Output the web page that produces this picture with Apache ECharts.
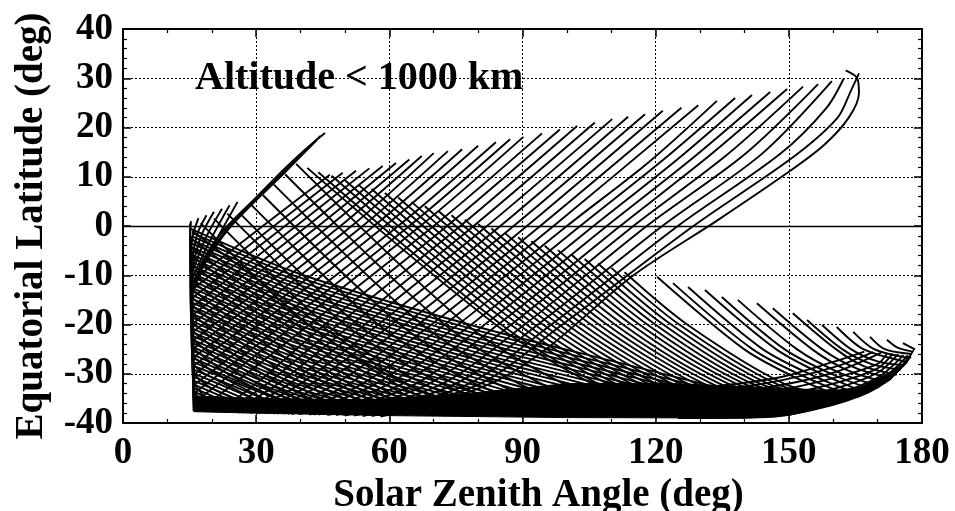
<!DOCTYPE html>
<html>
<head>
<meta charset="utf-8">
<style>html,body{margin:0;padding:0;background:#fff;}#c{width:955px;height:511px;}</style>
<script src="https://cdn.jsdelivr.net/npm/echarts@6/dist/echarts.min.js"></script>
</head>
<body>
<div id="c"></div>
<script>
// ---- axis ticks ----
const xTicks = [0, 30, 60, 90, 120, 150, 180];
const yTicks = [-40, -30, -20, -10, 0, 10, 20, 30, 40];
const xTitle = 'Solar Zenith Angle (deg)';
const yTitle = 'Equatorial Latitude (deg)';
const annotation = 'Altitude < 1000 km';

// ---- ascending tracks ending on the upper envelope (SZA, latitude) ----
const ascUpperBand = [
  [[15.6,-11.1],[31.5,0],[46.6,10.4]],
  [[15.6,-12.9],[34,0],[49.5,10.8]],
  [[15.6,-14.6],[36.5,0],[52.5,11.2]],
  [[15.6,-16.4],[39,0],[55.5,11.7]],
  [[15.6,-18.1],[41.5,0],[58.5,12.2]],
  [[15.6,-19.9],[44,0],[61.5,12.8]],
  [[15.6,-21.6],[46.5,0],[64.5,13.5]],
  [[15.6,-23.4],[49,0],[67.3,14.2]],
  [[15.6,-25.1],[51.5,0],[70,14.8]],
  [[15.6,-26.9],[54,0],[73.2,15.2]],
  [[15.6,-28.6],[56.5,0],[76.4,15.6]],
  [[15.7,-30.4],[59,0],[80,16.3]],
  [[15.7,-32.5],[62,0],[84,17]],
  [[15.7,-34.2],[64.5,0],[87.2,17.6]],
  [[15.8,-36],[67,0],[90.2,18.1]],
  [[17,-37.6],[70,0],[94.4,18.8]],
  [[21.5,-37.7],[30,-32],[45.5,-20],[73,0],[98.4,19.6]],
  [[23,-37.8],[32.5,-32],[48.5,-20],[76,0],[102.3,20.3]],
  [[24.5,-37.8],[35,-32],[51.5,-20],[79,0],[106.3,21]],
  [[26,-37.9],[37.5,-32],[54.5,-20],[82,0],[110.2,21.7]],
  [[28,-37.9],[40,-32],[57.5,-20],[85,0],[113.8,22.2]],
  [[30,-38],[42.5,-32],[60.5,-20],[88,0],[117.6,22.7]],
  [[32,-38],[45,-32],[63.5,-20],[91,0],[121.6,23.4]],
  [[34,-38.1],[48,-32],[66.5,-20],[94,0],[125.8,24]],
  [[36,-38.1],[51,-32],[69.5,-20],[97,0],[129.6,24.5]],
  [[38,-38.2],[54,-32],[72.5,-20],[100,0],[118.5,13],[133.8,25.4]],
  [[40,-38.2],[57,-32],[75.5,-20],[103,0],[121.5,13.3],[137.9,26]],
  [[42,-38.3],[60,-32],[78.5,-20],[106,0],[125,13.6],[141.7,26.6]],
  [[44,-38.3],[63,-32],[81.5,-20],[109,0],[128.5,13.9],[145.8,27.2]],
  [[46,-38.4],[66,-32],[84.5,-20],[112,0],[132,14.2],[149.6,27.8]],
  [[48,-38.4],[69,-32],[87.5,-20],[115,0],[136,14.4],[153.2,28.3]],
  [[50,-38.5],[72,-32],[90.5,-20],[118,0],[140,14.5],[156.6,28.8]],
  [[52,-38.5],[75,-32],[93.5,-20],[121.5,0],[144,14.7],[159.7,29.4]],
  [[54,-38.6],[78,-32],[96.5,-20],[125,0],[148,14.6],[158.5,24],[162.4,30]],
  [[56,-38.6],[80.5,-32],[99,-20],[128.5,0],[151,14],[161,22],[164,27.5],[165.8,31]],
  [[58,-38.7],[70,-36],[84,-31.5],[96,-24.5],[115,-10],[134,1.2],[150,11],[158,16.5],[163.5,22],[165.8,27],[165.4,30],[162.8,31.6]]
];

// ---- steep ascending strokes rising from the left edge, and the bundle up to the peak ----
const ascLeftEdge = [
  [[16,-37.5],[15.2,-15],[15.1,-3],[15.3,1]],
  [[16.1,-37.5],[15.3,-16],[15.4,-4],[16,-1],[17,1.6]],
  [[15.5,-7],[16.8,-1.5],[18.8,2.2]],
  [[15.6,-8.5],[17.6,-2],[20.5,2.9]],
  [[15.6,-9.5],[18.6,-2.5],[22.3,3.5]],
  [[15.7,-10.5],[19.6,-3],[24,4.2]],
  [[15.7,-11.5],[20.6,-3.5],[25.8,4.9]],
  [[15.6,-14],[17,-9],[20,-4],[23.5,0],[30,5.8],[36,11.3],[41,15.5],[45.5,18.9]],
  [[15.7,-13.5],[17.5,-8.5],[24,0],[36.3,11.1],[44.5,18.3]],
  [[15.9,-13],[18.2,-8],[24.4,0],[36.6,11],[43.6,17.4]],
  [[15.1,0.5],[15.5,-20],[15.9,-37.6]],
  [[15.4,-2],[15.8,-20],[16.2,-37.6]]
];

// ---- descending lattice tracks leaving the left edge ----
const descEdge = [
  [[15.6,-1],[60.2,-30],[78,-38.3]],
  [[15.6,-2.7],[57.6,-30],[75.5,-38.3]],
  [[15.6,-4.4],[55,-30],[73,-38.2]],
  [[15.6,-6.1],[52.4,-30],[70,-38.2]],
  [[15.6,-7.8],[49.8,-30],[67.5,-38.2]],
  [[15.6,-9.5],[47.1,-30],[65,-38.1]],
  [[15.6,-11.2],[44.5,-30],[62,-38.1]],
  [[15.6,-12.9],[41.9,-30],[59.5,-38]],
  [[15.6,-14.6],[39.3,-30],[57,-38]],
  [[15.7,-16.3],[36.7,-30],[54,-38]],
  [[15.7,-18],[34.1,-30],[51.5,-37.9]],
  [[15.7,-19.7],[31.4,-30],[49,-37.9]],
  [[15.7,-21.4],[28.8,-30],[46,-37.9]],
  [[15.7,-23.1],[26.2,-30],[43.5,-37.8]],
  [[15.8,-24.8],[23.6,-30],[41,-37.8]],
  [[15.8,-26.5],[21,-30],[38,-37.8]],
  [[15.8,-28.2],[18.4,-30],[35.5,-37.7]],
  [[15.8,-29.9],[20,-33],[33,-37.7]],
  [[15.8,-31.6],[19,-35],[30,-37.7]],
  [[15.8,-33.3],[18.5,-36],[27,-37.6]]
];

// ---- descending tracks starting below the peak ----
const descLeft = [
  [[17.5,0.6],[41.7,-20],[63.5,-32],[83.5,-38.4]],
  [[20.5,1.5],[45.8,-20],[67.6,-32],[87.6,-38.5]],
  [[23.5,2.5],[50,-20],[71.8,-32],[91.8,-38.5]],
  [[26.5,2.4],[52.9,-20],[74.7,-32],[94.7,-38.6]],
  [[29,4.2],[57.5,-20],[79.3,-32],[99.3,-38.6]],
  [[31.5,6.3],[62.4,-20],[84.2,-32],[104.2,-38.7]],
  [[34,8.4],[67.4,-20],[89.2,-32],[109.2,-38.7]],
  [[36.5,10.5],[72.4,-20],[94.2,-32],[114.2,-38.8]],
  [[39,12.6],[77.4,-20],[99.2,-32],[119.2,-38.8]]
];

// ---- descending tracks starting on the falling edge right of the peak ----
const descMid = [
  [[41.5,11.8],[83.9,-20],[105.7,-32],[125.7,-38.8]],
  [[44,10.9],[85.2,-20],[107,-32],[127,-38.8]],
  [[47,10.2],[87.3,-20],[109.1,-32],[129.1,-38.9]],
  [[50,9.3],[89.1,-20],[110.9,-32],[130.9,-38.9]],
  [[53,8.4],[90.9,-20],[112.7,-32],[132.7,-38.9]],
  [[56,7.5],[92.7,-20],[114.5,-32],[134.5,-38.9]],
  [[59,6.7],[94.6,-20],[116.4,-32],[136.4,-39]],
  [[62,5.8],[96.4,-20],[118.2,-32],[138.2,-39]],
  [[65,4.9],[98.2,-20],[120,-32],[140,-39]],
  [[68,4.0],[100,-20],[121.8,-32],[141.8,-38.9]],
  [[71,3.1],[101.8,-20],[123.6,-32],[143.6,-38.8]],
  [[74,2.2],[103.6,-20],[125.4,-32],[145.4,-38.7]],
  [[77,1.3],[105.4,-20],[127.2,-32],[147.2,-38.6]],
  [[80,0.4],[107.2,-20],[129,-32],[149,-38.5]],
  [[83,-0.5],[109,-20],[130.8,-32],[150.5,-38.3]],
  [[86,-1.4],[110.8,-20],[132.6,-32],[152,-38]],
  [[89,-2.3],[112.6,-20],[134.4,-32],[153.5,-37.7]],
  [[92,-3.1],[114.5,-20],[136.3,-32],[155,-37.3]],
  [[95,-4],[116.3,-20],[138.1,-32],[156.5,-37]],
  [[98,-4.9],[118.1,-20],[139.9,-32],[158,-36.7]],
  [[101,-5.8],[119.9,-20],[141.7,-32],[159.5,-36.4]],
  [[104,-6.7],[121.7,-20],[143.5,-32],[160.5,-36.1]],
  [[107,-7.6],[123.5,-20],[145.3,-32],[161.5,-35.8]],
  [[110,-8.5],[125.3,-20],[147.1,-32],[162.5,-35.5]],
  [[113,-9.4],[127.1,-20],[148.9,-32],[163.5,-35.2]]
];

// ---- descending tracks of the lower-right band ----
const descRight = [
  [[120.3,-10.3],[139.9,-25],[152,-31],[163,-35.1]],
  [[123.9,-11.6],[141.8,-25],[154,-30.8],[164.5,-34.7]],
  [[127.3,-12.4],[144.1,-25],[156,-30.6],[166,-34.3]],
  [[131.1,-13],[147.1,-25],[158,-30.3],[167.5,-33.9]],
  [[134.9,-14.4],[149,-25],[159.5,-30],[169,-33.3]],
  [[138.5,-15],[151.8,-25],[161,-29.6],[170.5,-32.6]],
  [[142.8,-15.7],[155.2,-25],[163,-29.2],[172,-31.8]],
  [[146.4,-16.7],[157.5,-25],[165,-28.8],[173.2,-31]],
  [[150.9,-17.7],[160.6,-25],[167,-28.5],[174.3,-30.2]],
  [[154.1,-19.1],[162,-25],[168.5,-28],[175.2,-29.2]],
  [[157.5,-20.1],[164,-25],[170,-27.5],[176,-28.3]],
  [[160.8,-20.5],[166.8,-25],[176.6,-27.6]],
  [[164.5,-21.5],[169.2,-25],[177.2,-26.8]],
  [[168.3,-22.5],[171.6,-25],[177.7,-26]],
  [[172.1,-23.1],[174.5,-24.7],[178,-25.5]],
  [[175.7,-23.8],[178.3,-25]]
];

// ---- shallow descending tracks leaving the left edge (dense lower region) ----
const shallowDesc = [
  [[15.3,-0.6],[40,-9.8],[80,-20.5],[115,-28.5],[150,-36.5]],
  [[15.5,-1.35],[40,-10.55],[80,-21.25],[115,-29.25],[149,-37]],
  [[15.6,-2.1],[40,-11.3],[80,-22],[115,-30],[148,-37.6]],
  [[15.6,-2.85],[40,-12.05],[80,-22.75],[115,-30.75],[145.5,-37.8]],
  [[15.6,-3.6],[40,-12.8],[80,-23.5],[115,-31.5],[143,-38]],
  [[15.6,-4.35],[40,-13.55],[80,-24.25],[115,-32.25],[140.5,-38.2]],
  [[15.6,-5.1],[40,-14.3],[80,-25],[115,-33],[138,-38.3]],
  [[15.6,-5.85],[40,-15.05],[80,-25.75],[115,-33.75],[135,-38.4]],
  [[15.6,-6.6],[40,-15.8],[80,-26.5],[115,-34.5],[132,-38.5]],
  [[15.6,-7.35],[40,-16.55],[80,-27.25],[115,-35.25],[128.5,-38.5]],
  [[15.6,-8.1],[40,-17.3],[80,-28],[115,-36],[125,-38.5]],
  [[15.6,-8.85],[40,-18.05],[80,-28.75],[112,-36.2],[121.5,-38.5]],
  [[15.6,-9.6],[40,-18.8],[80,-29.5],[110,-36.5],[118,-38.5]],
  [[15.6,-10.35],[40,-19.55],[80,-30.25],[114,-38.5]],
  [[15.6,-11.1],[40,-20.3],[80,-31],[110,-38.5]],
  [[15.6,-11.85],[40,-21.05],[80,-31.75],[106,-38.5]],
  [[15.7,-12.6],[40,-21.8],[80,-32.5],[102,-38.5]],
  [[15.7,-13.35],[40,-22.55],[80,-33.25],[99.5,-38.5]],
  [[15.7,-14.1],[40,-23.3],[80,-34],[97,-38.6]],
  [[15.7,-14.85],[40,-24.05],[80,-34.75],[94,-38.6]],
  [[15.7,-15.6],[40,-24.8],[80,-35.5],[91,-38.6]],
  [[15.7,-16.35],[40,-25.55],[80,-36.25],[88.5,-38.6]],
  [[15.7,-17.1],[40,-26.3],[80,-37],[86,-38.6]],
  [[15.7,-17.85],[40,-27.05],[80,-37.75],[83,-38.6]],
  [[15.7,-18.6],[40,-27.8],[80,-38.5]],
  [[15.7,-19.35],[40,-28.55],[77.5,-38.5]],
  [[15.7,-20.1],[40,-29.3],[75,-38.5]],
  [[15.7,-20.85],[40,-30.05],[72.5,-38.5]],
  [[15.8,-21.6],[40,-30.8],[70,-38.5]],
  [[15.8,-22.35],[40,-31.55],[67,-38.45]],
  [[15.8,-23.1],[40,-32.3],[64,-38.4]],
  [[15.8,-23.85],[40,-33.05],[61,-38.4]],
  [[15.8,-24.6],[40,-33.8],[58,-38.4]],
  [[15.8,-25.35],[40,-34.55],[55.5,-38.4]],
  [[15.8,-26.1],[40,-35.3],[53,-38.4]],
  [[15.8,-26.85],[40,-36.05],[50,-38.35]],
  [[15.8,-27.6],[40,-36.8],[47,-38.3]],
  [[15.8,-28.35],[43.5,-38.3]],
  [[15.8,-29.1],[40,-38.2]],
  [[15.8,-29.85],[37.5,-38.15]],
  [[15.8,-30.6],[35,-38.1]],
  [[15.8,-31.35],[33,-38.05]],
  [[15.8,-32.1],[31,-38]],
  [[15.8,-32.85],[29,-37.95]],
  [[15.8,-33.6],[27,-37.9]],
  [[15.8,-35.1],[23,-37.8]]
];

// ---- shallow ascending tracks of the lower-right mixed zone ----
const shallowAscRight = [
  [[125,-39],[145,-38.8],[160,-36.3],[170,-32.8],[177.5,-26.5]],
  [[125,-38.3],[145,-37.8],[160,-35.2],[170,-31.8],[176.8,-26.3]],
  [[125,-37.6],[145,-36.8],[160,-34.2],[170,-30.8],[175.8,-26.2]],
  [[125,-36.8],[145,-35.8],[160,-33.1],[170,-29.8],[174.6,-26]],
  [[125,-36],[145,-34.8],[160,-32],[170,-28.9],[173.4,-25.9]],
  [[125,-35.2],[145,-33.8],[160,-30.9],[170,-28],[172.2,-25.8]],
  [[127,-34.3],[145,-32.8],[160,-29.8],[170.8,-25.7]],
  [[130,-33.4],[145,-31.9],[160,-28.7],[169,-25.6]],
  [[134,-32.5],[148,-30.7],[160,-27.6],[167,-25.5]]
];

// ---- outline of the saturated (solid black) region near the southern turning point ----
const corePoly = [
  [15.8,-34.5],[30,-35],[56,-35.3],[80,-33.8],[100,-32],[121,-31.9],[140,-32.6],[150,-33],
  [160,-33.4],[166,-32.8],[171,-30.6],[175.5,-28.2],[178.4,-24.8],
  [176.6,-27.8],[172.8,-31.3],[167.6,-33.9],[160,-36.3],[150.3,-38.4],[140,-39],[100,-38.9],
  [60,-38.5],[30,-38],[16,-37.7]
];

const FONT = "'Liberation Serif', 'Times New Roman', serif";
const allTracks = [].concat(ascUpperBand, ascLeftEdge, descEdge, descLeft, descMid, descRight, shallowDesc, shallowAscRight);

const series = [];
series.push({
  type: 'custom',
  coordinateSystem: 'cartesian2d',
  data: corePoly,
  silent: true,
  clip: true,
  z: 2,
  renderItem: function (params, api) {
    if (params.dataIndex !== 0) return null;
    return {
      type: 'polygon',
      shape: { points: corePoly.map(function (p) { return api.coord(p); }) },
      style: { fill: '#000', stroke: '#000', lineWidth: 1 }
    };
  }
});
allTracks.forEach(function (t, i) {
  const s = {
    type: 'line',
    data: t,
    showSymbol: false,
    symbol: 'none',
    smooth: 0.3,
    silent: true,
    clip: true,
    z: 3,
    lineStyle: { color: '#000', width: 1.9 }
  };
  if (i === 0) {
    s.markLine = {
      silent: true,
      symbol: ['none', 'none'],
      label: { show: false },
      lineStyle: { color: '#000', type: 'solid', width: 1.3 },
      data: [{ yAxis: 0 }]
    };
  }
  series.push(s);
});

const axisCommon = {
  axisLine: { show: true, onZero: false, lineStyle: { color: '#000', width: 2 } },
  axisTick: { show: true, inside: true, length: 8, lineStyle: { color: '#000', width: 1.5 } },
  minorTick: { show: true, length: 4, lineStyle: { color: '#000', width: 1.2 } }
};

const chart = echarts.init(document.getElementById('c'), null, { renderer: 'canvas' });
chart.setOption({
  animation: false,
  backgroundColor: '#fff',
  grid: { left: 123, right: 33, top: 29, bottom: 88, containLabel: false, outerBoundsMode: 'none' },
  xAxis: [
    Object.assign({}, axisCommon, {
      type: 'value', position: 'bottom',
      min: xTicks[0], max: xTicks[xTicks.length - 1], interval: xTicks[1] - xTicks[0],
      minorTick: Object.assign({}, axisCommon.minorTick, { splitNumber: 3 }),
      splitLine: { show: true, lineStyle: { color: '#000', type: [2, 2], width: 1 } },
      axisLabel: { show: true, margin: 12, color: '#000', fontFamily: FONT, fontWeight: 'bold', fontSize: 37,
        showMinLabel: true, showMaxLabel: true },
      name: xTitle, nameLocation: 'middle', nameGap: 45,
      nameTextStyle: { color: '#000', fontFamily: FONT, fontWeight: 'bold', fontSize: 39, padding: [0, 0, 0, 32] }
    }),
    Object.assign({}, axisCommon, {
      type: 'value', position: 'top',
      min: xTicks[0], max: xTicks[xTicks.length - 1], interval: xTicks[1] - xTicks[0],
      minorTick: Object.assign({}, axisCommon.minorTick, { splitNumber: 3 }),
      splitLine: { show: false }, axisLabel: { show: false }
    })
  ],
  yAxis: [
    Object.assign({}, axisCommon, {
      type: 'value', position: 'left',
      min: yTicks[0], max: yTicks[yTicks.length - 1], interval: yTicks[1] - yTicks[0],
      minorTick: Object.assign({}, axisCommon.minorTick, { splitNumber: 5 }),
      splitLine: { show: true, lineStyle: { color: '#000', type: [2, 2], width: 1 } },
      axisLabel: { show: true, margin: 10, color: '#000', fontFamily: FONT, fontWeight: 'bold', fontSize: 37,
        showMinLabel: true, showMaxLabel: true },
      name: yTitle, nameLocation: 'middle', nameGap: 72, nameRotate: 90,
      nameTextStyle: { color: '#000', fontFamily: FONT, fontWeight: 'bold', fontSize: 39 }
    }),
    Object.assign({}, axisCommon, {
      type: 'value', position: 'right',
      min: yTicks[0], max: yTicks[yTicks.length - 1], interval: yTicks[1] - yTicks[0],
      minorTick: Object.assign({}, axisCommon.minorTick, { splitNumber: 5 }),
      splitLine: { show: false }, axisLabel: { show: false }
    })
  ],
  graphic: [{
    type: 'text', left: 195, top: 59, silent: true,
    style: { text: annotation, fill: '#000', font: "bold 40px 'Liberation Serif', 'Times New Roman', serif" }
  }],
  series: series
});
</script>
</body>
</html>
